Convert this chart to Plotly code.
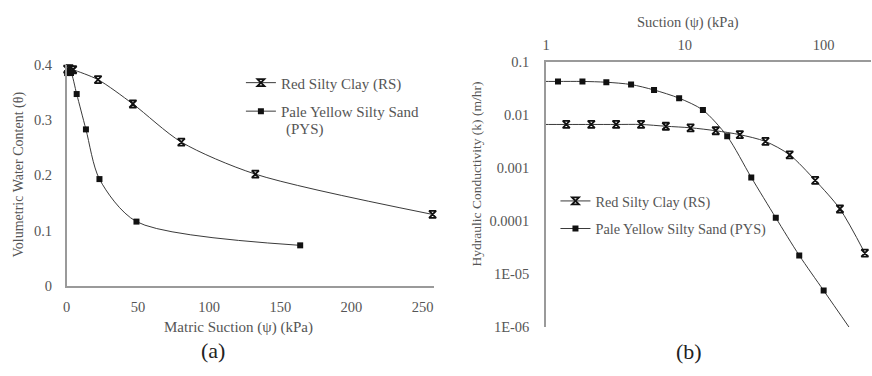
import plotly.graph_objects as go

# ---------- data ----------
# (a) Soil-water characteristic curves
rs_suction_a = [0.3, 2.0, 4.5, 22, 46.5, 80.5, 132.5, 257]
rs_theta = [0.392, 0.393, 0.391, 0.373, 0.329, 0.260, 0.202, 0.129]
pys_suction_a = [0.3, 1.5, 3.0, 7.0, 13.5, 23, 49, 164]
pys_theta = [0.385, 0.386, 0.385, 0.347, 0.283, 0.193, 0.116, 0.073]

# (b) Hydraulic conductivity functions
rs_suction_b = [0.9, 1.40, 2.12, 3.2, 4.84, 7.3, 11.0, 16.7, 24.9, 38.1, 56.9, 86.9, 131, 198]
rs_k = [0.0067, 0.0067, 0.0067, 0.0067, 0.0067, 0.0062, 0.0058, 0.0051, 0.0043, 0.0032,
        0.00179, 0.00059, 0.00017, 2.5e-5]
pys_suction_b = [0.81, 1.22, 1.83, 2.72, 4.1, 6.0, 9.1, 13.5, 20.2, 30.1, 45.2, 66.7, 100, 158]
pys_k = [0.0435, 0.0435, 0.0435, 0.042, 0.038, 0.030, 0.021, 0.0125, 0.0040, 0.00067,
         0.000116, 2.26e-5, 4.9e-6, 8.7e-7]

series_names = ["Red Silty Clay (RS)", "Pale Yellow Silty Sand (PYS)"]
legend_a_names = ["Red Silty Clay (RS)", "Pale Yellow Silty Sand"]
legend_a_wrap = "(PYS)"

xa_ticks = [0, 50, 100, 150, 200, 250]
ya_ticks = [0, 0.1, 0.2, 0.3, 0.4]
ya_ticktext = ["0", "0.1", "0.2", "0.3", "0.4"]
xb_ticks = [1, 10, 100]
xb_ticktext = ["1", "10", "100"]
yb_ticks = [0.1, 0.01, 0.001, 0.0001, 1e-5, 1e-6]
yb_ticktext = ["0.1", "0.01", "0.001", "0.0001", "1E-05", "1E-06"]

# ---------- styling ----------
W, H = 872, 376
FONT = "Liberation Serif"
LINE_C = "#3a3a3a"
AX_C = "#9a9a9a"
TXT_C = "#555555"

def px_x(p):
    return p / W

def px_y(p):
    return 1 - p / H

fig = go.Figure()

rs_marker = dict(symbol="hourglass-open", size=7, color="#111111", line=dict(width=1.8, color="#111111"))
pys_marker = dict(symbol="square", size=6, color="#111111")
line_style = dict(color=LINE_C, width=1, shape="spline", smoothing=0.8)

fig.add_trace(go.Scatter(x=rs_suction_a, y=rs_theta, mode="lines+markers", name=legend_a_names[0],
                         line=line_style, marker=rs_marker, xaxis="x", yaxis="y",
                         legend="legend", legendgroup="a1", cliponaxis=False))
fig.add_trace(go.Scatter(x=pys_suction_a, y=pys_theta, mode="lines+markers", name=legend_a_names[1],
                         line=line_style, marker=pys_marker, xaxis="x", yaxis="y",
                         legend="legend", legendgroup="a2", cliponaxis=False))
fig.add_trace(go.Scatter(x=rs_suction_b, y=rs_k, mode="lines+markers", name=series_names[0],
                         line=line_style, marker=rs_marker, xaxis="x2", yaxis="y2",
                         legend="legend2", legendgroup="b1"))
fig.add_trace(go.Scatter(x=pys_suction_b, y=pys_k, mode="lines+markers", name=series_names[1],
                         line=line_style, marker=pys_marker, xaxis="x2", yaxis="y2",
                         legend="legend2", legendgroup="b2"))

tickfont = dict(family=FONT, size=14.5, color=TXT_C)
LEG_FONT_A = 15
LEG_FONT_B = 14.3

fig.update_layout(
    width=W, height=H, autosize=False,
    margin=dict(l=0, r=0, t=0, b=0),
    paper_bgcolor="white", plot_bgcolor="white",
    font=dict(family=FONT, color=TXT_C),
    xaxis=dict(domain=[px_x(63), px_x(432)], range=[0, 258], tickvals=xa_ticks,
               showgrid=False, zeroline=False, showline=True, linecolor=AX_C, linewidth=1.5,
               ticks="", tickfont=tickfont, ticklabelstandoff=7, anchor="y"),
    yaxis=dict(domain=[px_y(290), px_y(59.3)], range=[0, 0.4], tickvals=ya_ticks, ticktext=ya_ticktext,
               showgrid=False, zeroline=False, showline=True, linecolor=AX_C, linewidth=1.5,
               ticks="", tickfont=tickfont, ticklabelstandoff=10, anchor="x"),
    xaxis2=dict(domain=[px_x(544.5), px_x(871)], type="log", range=[0, 2.341],
                tickvals=xb_ticks, ticktext=xb_ticktext, side="top",
                showgrid=False, zeroline=False, showline=True, linecolor=AX_C, linewidth=1.5,
                ticks="", tickfont=tickfont, ticklabelstandoff=5, anchor="y2"),
    yaxis2=dict(domain=[px_y(333.3), px_y(56.7)], type="log", range=[-6, -1],
                tickvals=yb_ticks, ticktext=yb_ticktext,
                showgrid=False, zeroline=False, showline=True, linecolor=AX_C, linewidth=1.5,
                ticks="", tickfont=tickfont, ticklabelstandoff=12, anchor="x2"),
    legend=dict(x=px_x(238), y=px_y(61), xanchor="left", yanchor="top",
                bgcolor="rgba(0,0,0,0)", font=dict(family=FONT, size=LEG_FONT_A, color=TXT_C),
                tracegroupgap=6, itemwidth=30),
    legend2=dict(x=px_x(554), y=px_y(185), xanchor="left", yanchor="top",
                 bgcolor="rgba(0,0,0,0)", font=dict(family=FONT, size=LEG_FONT_B, color=TXT_C),
                 tracegroupgap=6, itemwidth=30),
    showlegend=True,
)

ann = [
    dict(text="Matric Suction (ψ) (kPa)", x=px_x(236), y=px_y(334), size=15),
    dict(text="Suction (ψ) (kPa)", x=px_x(687), y=px_y(15), size=14.5),
    dict(text="(a)", x=px_x(210), y=px_y(358), size=22, color="#222222"),
    dict(text="(b)", x=px_x(688), y=px_y(359), size=22, color="#222222"),
]
for a in ann:
    fig.add_annotation(text=a["text"], x=a["x"], y=a["y"], xref="paper", yref="paper",
                       xanchor="center", yanchor="middle", showarrow=False,
                       font=dict(family=FONT, size=a["size"], color=a.get("color", TXT_C)))
# wrapped second line of the left legend entry
fig.add_annotation(text=legend_a_wrap, x=px_x(281), y=px_y(127), xref="paper", yref="paper",
                   xanchor="left", yanchor="middle", showarrow=False,
                   font=dict(family=FONT, size=LEG_FONT_A, color=TXT_C))
fig.add_annotation(text="Volumetric Water Content (θ)", x=px_x(15), y=px_y(174), xref="paper", yref="paper",
                   xanchor="center", yanchor="middle", showarrow=False, textangle=-90,
                   font=dict(family=FONT, size=14, color=TXT_C))
fig.add_annotation(text="Hydraulic Conductivity (k) (m/hr)", x=px_x(475), y=px_y(173), xref="paper", yref="paper",
                   xanchor="center", yanchor="middle", showarrow=False, textangle=-90,
                   font=dict(family=FONT, size=13.5, color=TXT_C))

fig.write_html("out.html")
